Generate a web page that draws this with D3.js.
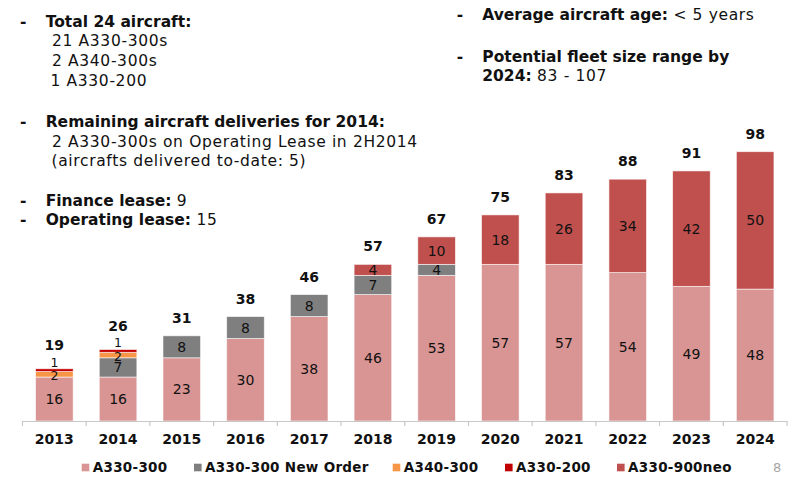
<!DOCTYPE html>
<html>
<head>
<meta charset="utf-8">
<script src="https://cdn.jsdelivr.net/npm/d3@7"></script>
<style>
  html, body { margin: 0; padding: 0; background: #fff; }
  svg { display: block; font-family: "DejaVu Sans", sans-serif; }
</style>
</head>
<body>
<svg id="chart" width="800" height="482"></svg>
<script>
// ---- data ----
const years = ["2013","2014","2015","2016","2017","2018","2019","2020","2021","2022","2023","2024"];
const a330_300      = [16, 16, 23, 30, 38, 46, 53, 57, 57, 54, 49, 48];
const a330_300New   = [0, 7, 8, 8, 8, 7, 4, 0, 0, 0, 0, 0];
const a340_300      = [2, 2, 0, 0, 0, 0, 0, 0, 0, 0, 0, 0];
const a330_200      = [1, 1, 0, 0, 0, 0, 0, 0, 0, 0, 0, 0];
const a330_900neo   = [0, 0, 0, 0, 0, 4, 10, 18, 26, 34, 42, 50];
const seriesNames   = ["A330-300", "A330-300 New Order", "A340-300", "A330-200", "A330-900neo"];
const seriesColors  = ["#d99594", "#7f7f7f", "#f79646", "#c00000", "#c0504d"];

const seriesValues = [a330_300, a330_300New, a340_300, a330_200, a330_900neo];
const rows = years.map((y, i) => {
  const r = { year: y };
  seriesNames.forEach((n, k) => r[n] = seriesValues[k][i]);
  return r;
});

const svg = d3.select("#chart");

// ---- scales ----
const x = d3.scaleBand().domain(years).range([22.5, 787]).paddingInner(0.41).paddingOuter(0.205);
const y = d3.scaleLinear().domain([0, 100]).range([421, 146.2]);
const color = d3.scaleOrdinal().domain(seriesNames).range(seriesColors);

const stacked = d3.stack().keys(seriesNames)(rows);

// ---- bars ----
const g = svg.append("g");
stacked.forEach(layer => {
  g.selectAll(null).data(layer.filter(d => d[1] - d[0] > 0)).enter()
    .append("rect")
    .attr("x", d => x(d.data.year))
    .attr("width", x.bandwidth())
    .attr("y", d => y(d[1]))
    .attr("height", d => y(d[0]) - y(d[1]))
    .attr("fill", color(layer.key))
    .attr("stroke", "#ffffff")
    .attr("stroke-opacity", 0.7)
    .attr("stroke-width", 0.8);
});

// segment labels (tiny segments get slightly smaller, nudged labels)
const labelShift = { "A330-200": -8, "A340-300": 1 };
const labelSize = { "A330-200": 12.5, "A340-300": 12.5 };
const topLabelY = {};
stacked.forEach(layer => {
  g.selectAll(null).data(layer.filter(d => d[1] - d[0] > 0)).enter()
    .append("text")
    .attr("x", d => x(d.data.year) + x.bandwidth() / 2)
    .attr("y", d => {
      const v = (y(d[0]) + y(d[1])) / 2 + (labelShift[layer.key] || 0);
      topLabelY[d.data.year] = Math.min(topLabelY[d.data.year] ?? Infinity, v);
      return v;
    })
    .attr("dy", "0.36em")
    .attr("text-anchor", "middle")
    .attr("font-size", labelSize[layer.key] || 14)
    .attr("fill", "#111")
    .text(d => d[1] - d[0]);
});

// total labels
const totals = rows.map(r => d3.sum(seriesNames, n => r[n]));
g.selectAll(null).data(rows).enter()
  .append("text")
  .attr("x", d => x(d.year) + x.bandwidth() / 2)
  .attr("y", (d, i) => Math.min(y(totals[i]) - 18, topLabelY[d.year] - 17))
  .attr("dy", "0.36em")
  .attr("text-anchor", "middle")
  .attr("font-size", 14)
  .attr("font-weight", "bold")
  .attr("fill", "#111")
  .text((d, i) => totals[i]);

// ---- axis ----
const axisG = svg.append("g").attr("transform", "translate(0,421)");
axisG.call(d3.axisBottom(x).tickSize(0).tickPadding(13))
  .call(s => s.select(".domain").attr("stroke", "#c8c8c8").attr("stroke-width", 1.2))
  .call(s => s.selectAll("text")
    .attr("font-family", "DejaVu Sans, sans-serif")
    .attr("font-size", 14).attr("font-weight", "bold").attr("fill", "#111"));
const boundaries = years.map(yr => x(yr) - (x.step() - x.bandwidth()) / 2).concat([x.range()[1]]);
axisG.selectAll(".bt").data(boundaries).enter()
  .append("line").attr("class", "bt")
  .attr("x1", d => d).attr("x2", d => d)
  .attr("y1", 0).attr("y2", 5)
  .attr("stroke", "#c8c8c8").attr("stroke-width", 1.2);

// ---- legend ----
const legendX = [81.7, 194, 392.7, 505, 617];
const lg = svg.append("g");
seriesNames.forEach((n, i) => {
  lg.append("rect").attr("x", legendX[i]).attr("y", 463.7).attr("width", 7.6).attr("height", 7.6)
    .attr("fill", color(n));
  lg.append("text").attr("x", legendX[i] + 11).attr("y", 472)
    .attr("font-size", 13.5).attr("font-weight", "bold").attr("letter-spacing", 0.3)
    .attr("fill", "#111").text(n);
});
svg.append("text").attr("x", 773).attr("y", 472).attr("font-size", 13).attr("fill", "#a6a6a6").text("8");

// ---- annotation text ----
function line(xp, yp, parts, size) {
  const t = svg.append("text").attr("x", xp).attr("y", yp).attr("font-size", size || 15.5).attr("fill", "#111");
  parts.forEach(p => {
    t.append("tspan").attr("font-weight", p[1] ? "bold" : "normal")
      .attr("letter-spacing", p[1] ? 0 : 0.65).text(p[0]);
  });
  return t;
}
function dash(xp, yp) {
  svg.append("text").attr("x", xp).attr("y", yp).attr("font-size", 15.5).attr("font-weight", "bold").attr("fill", "#111").text("-");
}
// left column
dash(20, 27); line(45.7, 27, [["Total 24 aircraft:", true]]);
line(52, 46, [["21 A330-300s", false]]);
line(52, 66, [["2 A340-300s", false]]);
line(50.5, 86, [["1 A330-200", false]]);
dash(20, 127); line(45.7, 127, [["Remaining aircraft deliveries for 2014:", true]]);
line(52, 147, [["2 A330-300s on Operating Lease in 2H2014", false]]);
line(51.5, 166, [["(aircrafts delivered to-date: 5)", false]]);
dash(20, 206); line(45.7, 206, [["Finance lease: ", true], ["9", false]]);
dash(20, 225); line(45.7, 225, [["Operating lease: ", true], ["15", false]]);
// right column
dash(456.7, 20); line(482.3, 20, [["Average aircraft age: ", true], ["< 5 years", false]]);
dash(456.7, 62); line(482.3, 62, [["Potential fleet size range by", true]]);
line(482.3, 81, [["2024: ", true], ["83 - 107", false]]);
</script>
</body>
</html>
